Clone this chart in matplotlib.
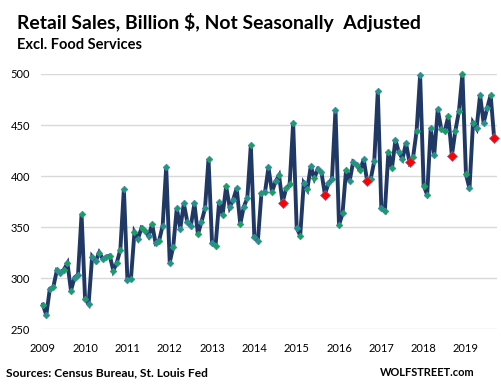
import matplotlib
matplotlib.use("Agg")
import matplotlib.pyplot as plt
import numpy as np

# Retail sales excl. food services, billion $, not seasonally adjusted (Jan 2009 - Sep 2019)
sales_2009 = [274.2, 264.0, 289.5, 291.5, 307.8, 305.6, 308.5, 314.7, 287.9, 300.7, 303.6, 362.7]
sales_2010 = [279.4, 274.8, 321.2, 316.7, 325.2, 319.0, 320.9, 322.2, 307.5, 315.3, 328.1, 387.6]
sales_2011 = [298.7, 299.3, 345.1, 338.6, 349.3, 346.7, 341.2, 352.9, 334.3, 336.9, 351.6, 408.8]
sales_2012 = [315.4, 331.0, 368.6, 348.7, 373.2, 354.9, 351.6, 373.2, 343.1, 355.2, 368.3, 416.7]
sales_2013 = [334.3, 332.0, 374.5, 362.4, 389.9, 369.6, 377.1, 388.2, 352.9, 369.9, 378.4, 430.4]
sales_2014 = [339.9, 336.9, 383.0, 384.0, 408.5, 384.6, 394.8, 400.7, 373.9, 388.0, 391.8, 452.0]
sales_2015 = [349.3, 341.8, 392.8, 386.9, 409.8, 398.0, 406.9, 404.2, 382.0, 392.8, 397.1, 464.7]
sales_2016 = [352.0, 363.4, 405.9, 394.8, 413.7, 410.5, 405.9, 416.5, 394.8, 397.4, 414.7, 483.3]
sales_2017 = [368.3, 365.7, 423.2, 407.5, 435.3, 423.2, 417.0, 432.4, 413.4, 418.3, 444.1, 499.0]
sales_2018 = [390.8, 381.7, 447.1, 420.9, 465.4, 446.1, 444.1, 458.8, 419.9, 444.4, 463.4, 500.0]
sales_2019 = [401.6, 387.9, 452.3, 446.7, 479.4, 452.0, 466.3, 479.4, 436.9]

years = [2009, 2010, 2011, 2012, 2013, 2014, 2015, 2016, 2017, 2018, 2019]
y_ticks = [250, 300, 350, 400, 450, 500]
highlight_month = 9  # September points in red, from 2014 on
highlight_from = 2014

sales = np.array(sales_2009 + sales_2010 + sales_2011 + sales_2012 + sales_2013
                 + sales_2014 + sales_2015 + sales_2016 + sales_2017 + sales_2018
                 + sales_2019)
idx = np.arange(len(sales))
month = idx % 12 + 1
year = years[0] + idx // 12
red = (month == highlight_month) & (year >= highlight_from)

plt.rcParams["font.family"] = ["Lato", "DejaVu Sans"]

W, H = 502, 391
fig = plt.figure(figsize=(W / 100, H / 100), dpi=100)
ax = fig.add_axes([41 / W, 1 - 329.3 / H, (497 - 41) / W, (329.3 - 74) / H])

ax.plot(idx, sales, color="#203864", lw=2.8, zorder=2, solid_joinstyle="miter")
ax.plot(idx[~red], sales[~red], ls="none", marker="D", ms=3.4, mfc="#12a650",
        mec="#4a7bd0", mew=0.5, zorder=3, clip_on=False)
ax.plot(idx[red], sales[red], ls="none", marker="D", ms=5.5, mfc="#ff0000",
        mec="#4a7bd0", mew=0.5, zorder=4, clip_on=False)

ax.set_xlim(-0.5, 128.8)
ax.set_ylim(250, 500)
ax.set_yticks(y_ticks)
ax.set_xticks([(y - years[0]) * 12 for y in years])
ax.set_xticklabels([str(y) for y in years])
ax.tick_params(length=0, labelsize=8, colors="#000000")
ax.tick_params(axis="x", pad=9.6)
ax.tick_params(axis="y", pad=8)
ax.grid(axis="y", color="#d9d9d9", lw=1)
ax.set_axisbelow(True)
for s in ax.spines.values():
    s.set_visible(False)

renderer = fig.canvas.get_renderer()


def fit_text(x_px, base_px, s, width_px, **kw):
    t = fig.text(x_px / W, 1 - base_px / H, s, va="baseline", fontweight="bold", **kw)
    w = t.get_window_extent(renderer).width
    t.set_fontsize(t.get_fontsize() * width_px / w)
    return t


fit_text(17, 29.3, "Retail Sales, Billion $, Not Seasonally  Adjusted", 405)
fit_text(17, 49, "Excl. Food Services", 125)
fit_text(6, 376, "Sources: Census Bureau, St. Louis Fed", 202)
fit_text(380, 376, "WOLFSTREET.com", 95)

fig.savefig("out.png", dpi=100)
